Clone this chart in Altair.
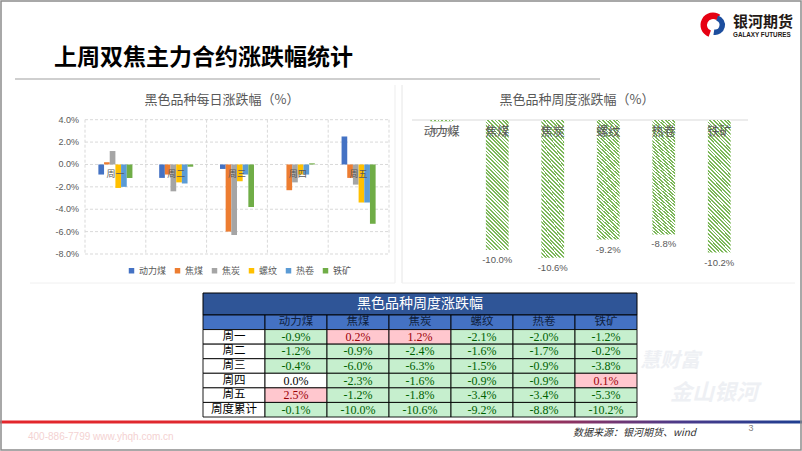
import altair as alt
import pandas as pd

# ---------------- data ----------------
products = ["动力煤", "焦煤", "焦炭", "螺纹", "热卷", "铁矿"]
days = ["周一", "周二", "周三", "周四", "周五"]
mon = [-0.9, 0.2, 1.2, -2.1, -2.0, -1.2]
tue = [-1.2, -0.9, -2.4, -1.6, -1.7, -0.2]
wed = [-0.4, -6.0, -6.3, -1.5, -0.9, -3.8]
thu = [0.0, -2.3, -1.6, -0.9, -0.9, 0.1]
fri = [2.5, -1.2, -1.8, -3.4, -3.4, -5.3]
weekly = [-0.1, -10.0, -10.6, -9.2, -8.8, -10.2]
total_label = "周度累计"
y_ticks = [4, 2, 0, -2, -4, -6, -8]
product_colors = ["#4472C4", "#ED7D31", "#A5A5A5", "#FFC000", "#5B9BD5", "#70AD47"]

daily_rows = [mon, tue, wed, thu, fri]
daily = pd.DataFrame(
    [{"day": d, "product": p, "v": daily_rows[i][j]}
     for i, d in enumerate(days) for j, p in enumerate(products)]
)
week_df = pd.DataFrame({"product": products, "v": weekly})
week_df["label"] = [f"{v:.1f}%" for v in weekly]

CJK = "Noto Sans CJK SC"
MIX = "Liberation Sans, Noto Sans CJK SC"
NARROW = "Liberation Sans Narrow"
GREY = "#595959"
one = alt.Data(values=[{"t": 1}])


def txt(s, x, y, **kw):
    return alt.Chart(alt.Data(values=[{"s": s}])).mark_text(**kw).encode(
        x=alt.value(x), y=alt.value(y), text="s:N")


def rule(x, x2, y, y2, **kw):
    return alt.Chart(one).mark_rule(**kw).encode(
        x=alt.value(x), x2=alt.value(x2), y=alt.value(y), y2=alt.value(y2))


def box(x, x2, y, y2, **kw):
    return alt.Chart(one).mark_rect(**kw).encode(
        x=alt.value(x), x2=alt.value(x2), y=alt.value(y), y2=alt.value(y2))


layers = []

# ---------------- slide decorations ----------------
layers.append(txt("上周双焦主力合约涨跌幅统计", 54, 58, font=CJK, fontSize=23,
                  fontWeight="bold", align="left", baseline="middle", color="#000000"))
layers.append(rule(15, 600, 79, 79, color="#BFBFBF", strokeWidth=1.5))
# logo
layers.append(alt.Chart(one).mark_arc(theta=3.5, theta2=6.9, radius=12.5, radius2=6,
                                      color="#E60012").encode(x=alt.value(713), y=alt.value(25)))
layers.append(alt.Chart(one).mark_arc(theta=0.3, theta2=3.3, radius=10, radius2=4.5,
                                      color="#1D4E9E").encode(x=alt.value(715), y=alt.value(25)))
layers.append(txt("银河期货", 733, 22, font=CJK, fontSize=15, fontWeight="bold",
                  align="left", baseline="middle", color="#231815"))
layers.append(txt("GALAXY FUTURES", 733, 35, font="Liberation Sans", fontSize=6.3,
                  fontWeight="bold", align="left", baseline="middle", color="#231815"))
# panel separators
layers.append(rule(395, 395, 85, 283, color="#EDEDED"))
layers.append(rule(402, 402, 85, 283, color="#E6E6E6"))
layers.append(rule(30, 395, 283, 283, color="#F0F0F0"))
layers.append(rule(402, 795, 283, 283, color="#F0F0F0"))

# ---------------- left chart: daily grouped bars ----------------
LX = alt.Scale(domain=days, range=[85, 389], paddingInner=0.44, paddingOuter=0.22)
LXD = alt.Scale(domain=days, range=[85, 389], paddingInner=0, paddingOuter=0)
LY = alt.Scale(domain=[-8, 4], range=[254, 119.7], nice=False, zero=False)

layers.append(txt("黑色品种每日涨跌幅（%）", 222, 100, font=CJK, fontSize=13,
                  color=GREY, baseline="middle"))
tick_df = pd.DataFrame({"t": y_ticks, "lab": [f"{t:.1f}%" for t in y_ticks]})
layers.append(alt.Chart(tick_df).mark_rule(color="#D9D9D9", strokeDash=[3, 2]).encode(
    y=alt.Y("t:Q", scale=LY, axis=None), x=alt.value(85), x2=alt.value(389)))
layers.append(alt.Chart(pd.DataFrame({"day": days})).mark_rule(
    color="#D9D9D9", strokeDash=[3, 2]).encode(
    x=alt.X("day:N", scale=LXD, axis=None, bandPosition=0),
    y=alt.value(119.7), y2=alt.value(254)))
layers.append(rule(389, 389, 119.7, 254, color="#D9D9D9", strokeDash=[3, 2]))
layers.append(alt.Chart(tick_df).mark_text(font=MIX, fontSize=9, color=GREY,
                                           align="right", baseline="middle").encode(
    y=alt.Y("t:Q", scale=LY, axis=None), x=alt.value(79), text="lab:N"))
layers.append(alt.Chart(daily).mark_bar().encode(
    x=alt.X("day:N", sort=days, scale=LX, axis=None),
    xOffset=alt.XOffset("product:N", sort=products, scale=alt.Scale(domain=products)),
    y=alt.Y("v:Q", scale=LY, axis=None),
    y2=alt.datum(0),
    color=alt.Color("product:N", sort=products,
                    scale=alt.Scale(domain=products, range=product_colors),
                    legend=alt.Legend(orient="none", legendX=127, legendY=266,
                                      direction="horizontal", title=None,
                                      symbolType="square", symbolSize=30,
                                      symbolStrokeWidth=0, labelFont=CJK,
                                      labelFontSize=9, labelColor=GREY,
                                      labelOffset=3, columnPadding=6, padding=0)),
))
layers.append(alt.Chart(pd.DataFrame({"day": days, "z": [0] * len(days)})).mark_text(
    font=CJK, fontSize=9, color=GREY, baseline="middle", dy=10).encode(
    x=alt.X("day:N", sort=days, scale=LX, axis=None),
    y=alt.Y("z:Q", scale=LY, axis=None), text="day:N"))

# ---------------- right chart: weekly bars (hatched) ----------------
RX = alt.Scale(domain=products, range=[414, 747], paddingInner=0.59, paddingOuter=0.295)
RY = alt.Scale(domain=[-12, 0], range=[276, 120], nice=False, zero=False)

n_stripes = 42
stops = []
for i in range(n_stripes):
    o0, o1, o2 = i / n_stripes, (i + 0.5) / n_stripes, (i + 1) / n_stripes
    stops += [alt.GradientStop(offset=o0, color="#7DB85A"),
              alt.GradientStop(offset=o1, color="#7DB85A"),
              alt.GradientStop(offset=o1, color="#FFFFFF"),
              alt.GradientStop(offset=o2, color="#FFFFFF")]
hatch = alt.LinearGradient(gradient="linear", stops=stops,
                           x1=0, y1=1, x2=0.2, y2=-0.14)

layers.append(txt("黑色品种周度涨跌幅（%）", 577, 100, font=CJK, fontSize=13,
                  color=GREY, baseline="middle"))
layers.append(rule(412, 748, 120, 120, color="#D9D9D9"))
layers.append(alt.Chart(week_df).mark_bar(fill=hatch).encode(
    x=alt.X("product:N", sort=products, scale=RX, axis=None),
    y=alt.Y("v:Q", scale=RY, axis=None),
    y2=alt.datum(0)))
layers.append(alt.Chart(pd.DataFrame({"product": products, "z": [0] * 6})).mark_text(
    font=CJK, fontSize=12, color=GREY, baseline="middle", dy=12).encode(
    x=alt.X("product:N", sort=products, scale=RX, axis=None),
    y=alt.Y("z:Q", scale=RY, axis=None), text="product:N"))
layers.append(alt.Chart(week_df).mark_text(
    font=MIX, fontSize=9.5, color=GREY, baseline="middle", dy=10).encode(
    x=alt.X("product:N", sort=products, scale=RX, axis=None),
    y=alt.Y("v:Q", scale=RY, axis=None), text="label:N"))

# ---------------- table ----------------
row_names = days + [total_label]
col_names = ["lbl"] + products
all_rows = daily_rows + [weekly]
cells = []
cells.append({"r": "hdr", "c": "lbl", "kind": "hdr", "s": ""})
for p in products:
    cells.append({"r": "hdr", "c": p, "kind": "hdr", "s": p})
for i, r in enumerate(row_names):
    cells.append({"r": r, "c": "lbl", "kind": "lbl", "s": r})
    for j, p in enumerate(products):
        v = all_rows[i][j]
        kind = "neg" if v < 0 else ("pos" if v > 0 else "zero")
        cells.append({"r": r, "c": p, "kind": kind, "s": f"{v:.1f}%"})
cells_df = pd.DataFrame(cells)

TX = alt.Scale(domain=col_names, range=[203, 637], paddingInner=0, paddingOuter=0)
TY = alt.Scale(domain=["hdr"] + row_names, range=[315, 417], paddingInner=0, paddingOuter=0)
kinds = ["hdr", "lbl", "neg", "pos", "zero"]
fills = ["#4472C4", "#FFFFFF", "#C6EFCE", "#FFC7CE", "#FFFFFF"]
inks = ["#0F1F40", "#000000", "#006100", "#9C0006", "#000000"]

layers.append(box(203, 637, 293, 315, fill="#2F5597", stroke="#000000", strokeWidth=1))
layers.append(txt("黑色品种周度涨跌幅", 420, 304, font=CJK, fontSize=14,
                  color="#FFFFFF", baseline="middle"))
layers.append(alt.Chart(cells_df).mark_rect(stroke="#000000", strokeWidth=0.9).encode(
    x=alt.X("c:N", scale=TX, axis=None),
    y=alt.Y("r:N", scale=TY, axis=None),
    color=alt.Color("kind:N", scale=alt.Scale(domain=kinds, range=fills), legend=None)))
layers.append(alt.Chart(cells_df).transform_filter(
    "datum.kind == 'hdr' || datum.kind == 'lbl'").mark_text(
    font=CJK, fontSize=11.5, baseline="middle").encode(
    x=alt.X("c:N", scale=TX, axis=None),
    y=alt.Y("r:N", scale=TY, axis=None),
    text="s:N",
    color=alt.Color("kind:N", scale=alt.Scale(domain=kinds, range=inks), legend=None)))
layers.append(alt.Chart(cells_df).transform_filter(
    "datum.kind != 'hdr' && datum.kind != 'lbl'").mark_text(
    font=NARROW, fontSize=12, baseline="middle").encode(
    x=alt.X("c:N", scale=TX, axis=None),
    y=alt.Y("r:N", scale=TY, axis=None),
    text="s:N",
    color=alt.Color("kind:N", scale=alt.Scale(domain=kinds, range=inks), legend=None)))

# ---------------- watermark & footer ----------------
layers.append(txt("慧财富", 640, 361, font=CJK, fontSize=20, fontStyle="italic",
                  fontWeight="bold", color="#EEF0F4", align="left", baseline="middle"))
layers.append(txt("金山银河", 670, 393, font=CJK, fontSize=22, fontStyle="italic",
                  fontWeight="bold", color="#EEF0F4", align="left", baseline="middle"))
footer_grad = alt.LinearGradient(
    gradient="linear", x1=0, y1=0, x2=1, y2=0,
    stops=[alt.GradientStop(offset=0, color="#E3262B"),
           alt.GradientStop(offset=0.55, color="#DA2A33"),
           alt.GradientStop(offset=0.85, color="#4A3A8A"),
           alt.GradientStop(offset=1, color="#1E3F91")])
layers.append(box(0, 802, 420.5, 423.5, fill=footer_grad))
layers.append(txt("400-886-7799  www.yhqh.com.cn", 28, 437, font="Liberation Sans",
                  fontSize=10, color="#F4D2D2", align="left", baseline="middle"))
layers.append(txt("数据来源：银河期货、wind", 573, 433, font=CJK, fontSize=10,
                  fontStyle="italic", color="#303030", align="left", baseline="middle"))
layers.append(txt("3", 751, 428, font="Liberation Sans", fontSize=9,
                  color="#7F7F7F", baseline="middle"))
layers.append(box(1, 801, 1, 450, filled=False, stroke="#8C8C8C", strokeWidth=1.5))

chart = alt.layer(*layers).resolve_scale(
    x="independent", y="independent", color="independent", xOffset="independent"
).properties(
    width=802, height=451, autosize=alt.AutoSizeParams(type="none"), padding=0,
    background="#FFFFFF"
).configure_view(stroke=None)

chart.save("out.html", embed_options={"renderer": "svg", "actions": False})
